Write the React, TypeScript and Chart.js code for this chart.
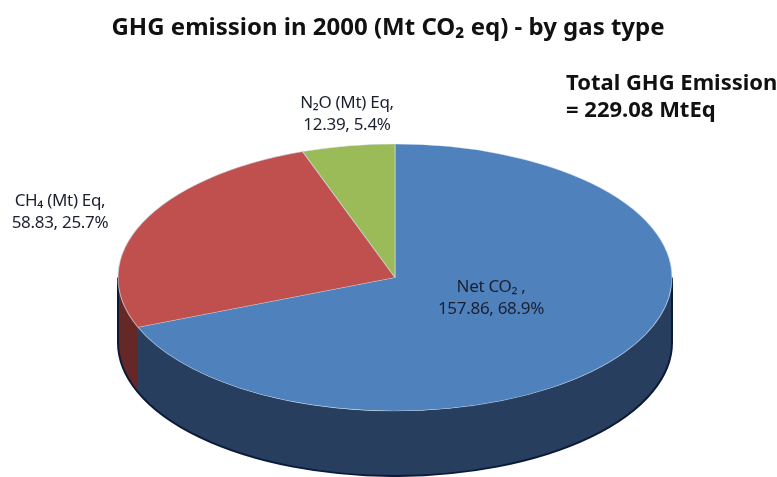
import React, { useEffect, useRef } from "react";
import { Chart, registerables } from "chart.js";

Chart.register(...registerables);

const titleText = "GHG emission in 2000 (Mt CO₂ eq) - by gas type";
const categories = ["Net CO₂ ", "CH₄ (Mt) Eq", "N₂O (Mt) Eq"];
const values = [157.86, 58.83, 12.39];
const percents = ["68.9%", "25.7%", "5.4%"];
const totalNote = ["Total GHG Emission", "= 229.08 MtEq"];

const topColors = ["#4f81bd", "#c0504d", "#9bbb59"];
const sideColors = ["#283e5e", "#652827", "#55682f"];
const labelAnchors = [
  { x: 491, y: 287 },
  { x: 60, y: 201 },
  { x: 347, y: 103 },
];
const squash = 0.482;
const depth = 65;
const pieRadius = 277;
const font = "'Noto Sans', sans-serif";

const piePlugin = {
  id: "tiltedPie",
  beforeDatasetsDraw(chart: any) {
    const ctx = chart.ctx;
    const arcs = chart.getDatasetMeta(0).data;
    const cx = arcs[0].x;
    const cy = arcs[0].y;
    const r = arcs[0].outerRadius;
    const ry = r * squash;
    arcs.forEach((arc: any, i: number) => {
      const a = Math.max(arc.startAngle, 0);
      const b = Math.min(arc.endAngle, Math.PI);
      if (b <= a) return;
      ctx.save();
      ctx.beginPath();
      ctx.ellipse(cx, cy, r, ry, 0, a, b);
      ctx.ellipse(cx, cy + depth, r, ry, 0, b, a, true);
      ctx.closePath();
      ctx.fillStyle = sideColors[i];
      ctx.fill();
      ctx.restore();
    });
    ctx.save();
    ctx.beginPath();
    ctx.moveTo(cx + r, cy);
    ctx.lineTo(cx + r, cy + depth);
    ctx.ellipse(cx, cy + depth, r, ry, 0, 0, Math.PI);
    ctx.lineTo(cx - r, cy);
    ctx.strokeStyle = "#0b1a38";
    ctx.lineWidth = 2;
    ctx.stroke();
    ctx.restore();
    ctx.save();
    ctx.translate(0, cy);
    ctx.scale(1, squash);
    ctx.translate(0, -cy);
  },
  afterDatasetsDraw(chart: any) {
    const ctx = chart.ctx;
    ctx.restore();
    ctx.save();
    ctx.fillStyle = "#1b2030";
    ctx.textAlign = "center";
    ctx.textBaseline = "middle";
    ctx.font = `17px ${font}`;
    (ctx as any).letterSpacing = "-0.3px";
    chart.data.labels.forEach((label: string, i: number) => {
      const p = labelAnchors[i];
      ctx.fillText(`${label},`, p.x, p.y);
      ctx.fillText(`${values[i]}, ${percents[i]}`, p.x, p.y + 22);
    });
    ctx.fillStyle = "#111";
    (ctx as any).letterSpacing = "0px";
    ctx.font = `bold 24px ${font}`;
    ctx.fillText(titleText, 388, 28);
    ctx.textAlign = "left";
    ctx.font = `bold 22px ${font}`;
    totalNote.forEach((line, i) => ctx.fillText(line, 566, 84 + i * 27));
    ctx.restore();
  },
};

export default function App() {
  const ref = useRef<HTMLCanvasElement>(null);
  useEffect(() => {
    const chart = new Chart(ref.current as HTMLCanvasElement, {
      type: "pie",
      data: {
        labels: categories,
        datasets: [
          {
            data: values,
            backgroundColor: topColors,
            borderColor: "rgba(205,222,240,0.55)",
            borderWidth: 1.2,
            clip: false,
          } as any,
        ],
      },
      options: {
        responsive: false,
        animation: false,
        radius: pieRadius,
        layout: { padding: { left: 13, right: 0, top: 78, bottom: 0 } },
        plugins: {
          legend: { display: false },
          tooltip: { enabled: false },
          title: { display: false },
        },
      } as any,
      plugins: [piePlugin],
    });
    return () => chart.destroy();
  }, []);
  return (
    <div style={{ position: "fixed", left: 0, top: 0, width: 777, height: 477, background: "#fff" }}>
      <canvas ref={ref} width={777} height={477} style={{ display: "block" }} />
    </div>
  );
}
